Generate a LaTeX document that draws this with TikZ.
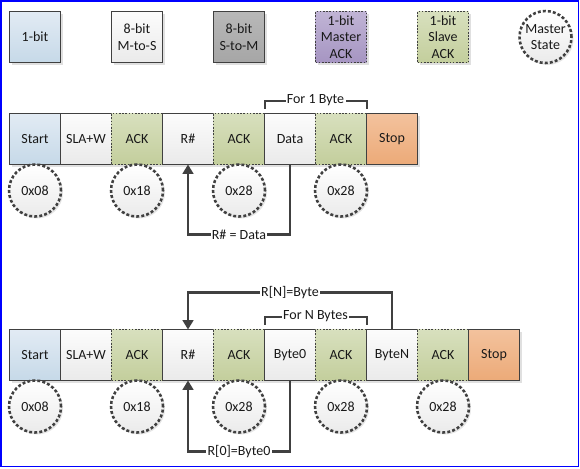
\documentclass[tikz,border=0pt]{standalone}
\usepackage{fontspec}
\setmainfont{Carlito}
\usetikzlibrary{positioning,shadows,arrows.meta}

\definecolor{edge}{HTML}{404040}
\definecolor{blueA}{HTML}{E2EBF4}
\definecolor{blueB}{HTML}{C6D9E8}
\definecolor{whiteA}{HTML}{FCFCFC}
\definecolor{whiteB}{HTML}{EAEAEA}
\definecolor{grayA}{HTML}{B8B8B8}
\definecolor{grayB}{HTML}{A6A6A6}
\definecolor{purpA}{HTML}{C0B4D5}
\definecolor{purpB}{HTML}{A695C2}
\definecolor{greenA}{HTML}{D8E0BE}
\definecolor{greenB}{HTML}{C3CE9C}
\definecolor{orangeA}{HTML}{F3C29D}
\definecolor{orangeB}{HTML}{ECAA78}
\definecolor{frameblue}{HTML}{0000FF}

\tikzset{
  cell/.style={draw=edge, line width=1.1pt, minimum width=38.25pt, minimum height=38.25pt,
    inner sep=0pt, outer sep=0pt, align=center, text=black!90,
    font=\fontsize{10.5}{12.5}\selectfont,
    drop shadow={shadow xshift=2pt, shadow yshift=-2pt, fill=black!12, opacity=1}},
  bitcell/.style={cell, top color=blueA, bottom color=blueB},
  mscell/.style={cell, top color=whiteA, bottom color=whiteB},
  smcell/.style={cell, top color=grayA, bottom color=grayB},
  mackcell/.style={cell, top color=purpA, bottom color=purpB, line width=0.8pt, dash pattern=on 1.2pt off 1.2pt},
  sackcell/.style={cell, top color=greenA, bottom color=greenB, line width=0.8pt, dash pattern=on 1.2pt off 1.2pt},
  stopcell/.style={cell, top color=orangeA, bottom color=orangeB},
  mstate/.style={circle, draw=edge, line width=1.9pt, dash pattern=on 2.2pt off 1.6pt,
    minimum size=39pt, inner sep=0pt, outer sep=0pt, align=center, text=black!90,
    top color=white, bottom color=black!8, font=\fontsize{10.5}{12.5}\selectfont,
    drop shadow={shadow xshift=1.5pt, shadow yshift=-1.5pt, fill=black!10, opacity=1}},
  flow/.style={draw=edge, line width=1.8pt, -{Triangle[length=7pt,width=8pt]}},
  brace/.style={draw=edge, line width=1.5pt, shorten <=3.75pt, shorten >=3.75pt},
  tag/.style={fill=white, inner sep=1pt, text=black!90, font=\fontsize{10.5}{12.5}\selectfont}
}

\begin{document}
\begin{tikzpicture}[x=0.75pt,y=-0.75pt]
  \useasboundingbox (0,0) rectangle (580,468);
  \draw[frameblue, line width=1.1pt] (1,1) rectangle (578.5,466.5);

  % legend
  \node[bitcell] (lbit) at (35,37) {1-bit};
  \node[mscell,right=38.25pt of lbit] (lms) {8-bit\\M-to-S};
  \node[smcell,right=38.25pt of lms] (lsm) {8-bit\\S-to-M};
  \node[mackcell,right=38.25pt of lsm] (lmack) {1-bit\\Master\\ACK};
  \node[sackcell,right=38.25pt of lmack] (lsack) {1-bit\\Slave\\ACK};
  \node[mstate,right=38.25pt of lsack] (lstate) {Master\\State};

  % write one byte
  \node[bitcell] (start1) at (35,139) {Start};
  \node[mscell,right=0pt of start1] (sla1) {SLA+W};
  \node[sackcell,right=0pt of sla1] (ack1a) {ACK};
  \node[mscell,right=0pt of ack1a] (rn1) {R\#};
  \node[sackcell,right=0pt of rn1] (ack1b) {ACK};
  \node[mscell,right=0pt of ack1b] (data1) {Data};
  \node[sackcell,right=0pt of data1] (ack1c) {ACK};
  \node[stopcell,right=0pt of ack1c] (stop1) {Stop};

  \node[mstate,below=0pt of start1] (st1a) {0x08};
  \node[mstate,below=0pt of ack1a] (st1b) {0x18};
  \node[mstate,below=0pt of ack1b] (st1c) {0x28};
  \node[mstate,below=0pt of ack1c] (st1d) {0x28};

  \draw[brace] (data1.north west) -- ++(0,-13) -| node[tag,pos=0.25] {For 1 Byte} (ack1c.north east);
  \draw[flow] (data1.south) -- ++(0,70) -| node[tag,pos=0.25] {R\# = Data} (rn1.south);

  % write N bytes
  \node[bitcell] (start2) at (35,355) {Start};
  \node[mscell,right=0pt of start2] (sla2) {SLA+W};
  \node[sackcell,right=0pt of sla2] (ack2a) {ACK};
  \node[mscell,right=0pt of ack2a] (rn2) {R\#};
  \node[sackcell,right=0pt of rn2] (ack2b) {ACK};
  \node[mscell,right=0pt of ack2b] (byte02) {Byte0};
  \node[sackcell,right=0pt of byte02] (ack2c) {ACK};
  \node[mscell,right=0pt of ack2c] (byten2) {ByteN};
  \node[sackcell,right=0pt of byten2] (ack2d) {ACK};
  \node[stopcell,right=0pt of ack2d] (stop2) {Stop};

  \node[mstate,below=0pt of start2] (st2a) {0x08};
  \node[mstate,below=0pt of ack2a] (st2b) {0x18};
  \node[mstate,below=0pt of ack2b] (st2c) {0x28};
  \node[mstate,below=0pt of ack2c] (st2d) {0x28};
  \node[mstate,below=0pt of ack2d] (st2e) {0x28};

  \draw[brace] (byte02.north west) -- ++(0,-13) -| node[tag,pos=0.25] {For N Bytes} (ack2c.north east);
  \draw[flow] (byten2.north) -- ++(0,-37) -| node[tag,pos=0.25] {R[N]=Byte} (rn2.north);
  \draw[flow] (byte02.south) -- ++(0,71) -| node[tag,pos=0.25] {R[0]=Byte0} (rn2.south);
\end{tikzpicture}
\end{document}
